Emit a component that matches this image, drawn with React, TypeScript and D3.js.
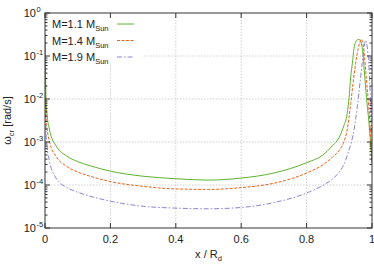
import * as d3 from "d3";

// M = 1.1 M_sun
const greenX = [0, 0.004, 0.014, 0.035, 0.065, 0.1, 0.138, 0.2, 0.3, 0.4, 0.5, 0.6, 0.7, 0.8, 0.85, 0.875, 0.902, 0.914, 0.924, 0.93, 0.935, 0.94, 0.945, 0.953, 0.96, 0.967, 0.973, 0.977, 0.983, 0.99, 1.0];
const greenY = [0.32, 6.6e-3, 1.9e-3, 7.9e-4, 4.8e-4, 3.5e-4, 2.8e-4, 2.1e-4, 1.6e-4, 1.4e-4, 1.3e-4, 1.45e-4, 1.9e-4, 3.3e-4, 5.0e-4, 7.6e-4, 1.4e-3, 2.4e-3, 4.5e-3, 1.1e-2, 3.3e-2, 6.8e-2, 0.15, 0.23, 0.245, 0.2, 9.8e-2, 4.0e-2, 1.1e-2, 3.2e-3, 3.2e-4];

// M = 1.4 M_sun
const orangeX = [0, 0.004, 0.014, 0.035, 0.065, 0.1, 0.138, 0.2, 0.3, 0.4, 0.5, 0.6, 0.7, 0.8, 0.85, 0.88, 0.902, 0.914, 0.924, 0.935, 0.942, 0.95, 0.957, 0.963, 0.967, 0.973, 0.977, 0.983, 0.99, 0.995, 1.0];
const orangeY = [0.08, 3.2e-3, 1.0e-3, 4.5e-4, 2.75e-4, 2.0e-4, 1.6e-4, 1.2e-4, 9.3e-5, 8.1e-5, 7.9e-5, 8.7e-5, 1.1e-4, 1.9e-4, 2.95e-4, 4.5e-4, 6.8e-4, 1.0e-3, 1.9e-3, 7.9e-3, 2.3e-2, 6.8e-2, 0.14, 0.21, 0.245, 0.18, 9.8e-2, 2.8e-2, 6.6e-3, 1.9e-3, 3.2e-4];

// M = 1.9 M_sun
const purpleX = [0, 0.004, 0.014, 0.035, 0.065, 0.1, 0.138, 0.2, 0.3, 0.4, 0.5, 0.6, 0.7, 0.8, 0.85, 0.88, 0.902, 0.914, 0.929, 0.945, 0.955, 0.963, 0.97, 0.975, 0.98, 0.985, 0.99, 0.995, 1.0];
const purpleY = [0.025, 1.26e-3, 3.5e-4, 1.4e-4, 8.9e-5, 6.8e-5, 5.5e-5, 4.2e-5, 3.2e-5, 2.9e-5, 2.8e-5, 3.0e-5, 3.9e-5, 6.5e-5, 9.8e-5, 1.4e-4, 2.1e-4, 3.0e-4, 6.3e-4, 1.9e-3, 6.6e-3, 2.3e-2, 6.8e-2, 0.14, 0.23, 0.17, 6.8e-2, 1.1e-2, 1.0e-3];

const legendLabels = ["M=1.1", "M=1.4", "M=1.9"];
const xTicks = [0, 0.2, 0.4, 0.6, 0.8, 1];
const xTickLabels = ["0", "0.2", "0.4", "0.6", "0.8", "1"];
const yExponents = [0, -1, -2, -3, -4, -5];

const W = 374;
const H = 264;
const margin = { left: 45, right: 2, top: 13, bottom: 36 };
const FONT = "'Liberation Sans', Arial, sans-serif";

const series = [
  { xs: greenX, ys: greenY, color: "#5fb22f", dash: "none" },
  { xs: orangeX, ys: orangeY, color: "#e5641b", dash: "3,1.5" },
  { xs: purpleX, ys: purpleY, color: "#8b84d2", dash: "5,2,1.5,2" },
];

export default function App() {
  const x = d3.scaleLinear().domain([0, 1]).range([margin.left, W - margin.right]);
  const y = d3.scaleLog().domain([1e-5, 1]).range([H - margin.bottom, margin.top]);
  const x0 = x.range()[0], x1 = x.range()[1];
  const y0 = y.range()[0], y1 = y.range()[1];

  const line = d3
    .line<[number, number]>()
    .x((d) => x(d[0]))
    .y((d) => y(d[1]))
    .curve(d3.curveMonotoneX);

  // minor ticks 2..9 in every decade
  const minor: number[] = [];
  yExponents.slice(0, -1).forEach((e) => {
    for (let k = 2; k <= 9; k++) minor.push(k * Math.pow(10, e - 1));
  });

  return (
    <svg width={W} height={H} style={{ position: "fixed", left: 0, top: 0, background: "#fff" }} fontFamily={FONT}>
      <defs>
        <clipPath id="plot">
          <rect x={x0} y={y1} width={x1 - x0} height={y0 - y1} />
        </clipPath>
      </defs>

      {/* grid */}
      {xTicks.slice(1, -1).map((t) => (
        <line key={"gx" + t} x1={x(t)} x2={x(t)} y1={y0} y2={y1} stroke="#c4c4c4" strokeWidth={0.8} strokeDasharray="1.5,1.5" />
      ))}
      {yExponents.slice(1, -1).map((e) => (
        <line key={"gy" + e} x1={x0} x2={x1} y1={y(Math.pow(10, e))} y2={y(Math.pow(10, e))} stroke="#c4c4c4" strokeWidth={0.8} strokeDasharray="1.5,1.5" />
      ))}

      {/* legend background */}
      <rect x={47} y={14} width={95} height={50} fill="#fff" />

      {/* curves */}
      <g clipPath="url(#plot)">
        {series.map((s, i) => (
          <path
            key={i}
            d={line(s.xs.map((v, j) => [v, s.ys[j]] as [number, number])) || ""}
            fill="none"
            stroke={s.color}
            strokeWidth={1}
            strokeDasharray={s.dash}
          />
        ))}
      </g>

      {/* frame */}
      <rect x={x0} y={y1} width={x1 - x0} height={y0 - y1} fill="none" stroke="#333" strokeWidth={1} />

      {/* y ticks */}
      {yExponents.map((e) => {
        const yy = y(Math.pow(10, e));
        return (
          <g key={"yt" + e}>
            <line x1={x0} x2={x0 + 5} y1={yy} y2={yy} stroke="#333" />
            <line x1={x1} x2={x1 - 5} y1={yy} y2={yy} stroke="#333" />
            <text x={36} y={yy + 4} fontSize={11} textAnchor="end" fill="#222">10</text>
            <text x={36.5} y={yy - 1.5} fontSize={7.5} fill="#222">{String(e)}</text>
          </g>
        );
      })}
      {minor.map((v) => (
        <g key={"ym" + v}>
          <line x1={x0} x2={x0 + 2.5} y1={y(v)} y2={y(v)} stroke="#333" />
          <line x1={x1} x2={x1 - 2.5} y1={y(v)} y2={y(v)} stroke="#333" />
        </g>
      ))}

      {/* x ticks */}
      {xTicks.map((t, i) => (
        <g key={"xt" + t}>
          <line x1={x(t)} x2={x(t)} y1={y0} y2={y0 - 5} stroke="#333" />
          <line x1={x(t)} x2={x(t)} y1={y1} y2={y1 + 5} stroke="#333" />
          <text x={x(t)} y={y0 + 15} fontSize={11} textAnchor="middle" fill="#222">{xTickLabels[i]}</text>
        </g>
      ))}

      {/* axis labels */}
      <text x={(x0 + x1) / 2} y={H - 6} fontSize={11} textAnchor="middle" fill="#222">
        x / R<tspan fontSize={7.5} dy={3}>d</tspan>
      </text>
      <text transform={`translate(11,${(y0 + y1) / 2}) rotate(-90)`} fontSize={11} textAnchor="middle" fill="#222">
        ω<tspan fontSize={7.5} dy={3}>cr</tspan><tspan dy={-3}> [rad/s]</tspan>
      </text>

      {/* legend */}
      {series.map((s, i) => {
        const ly = 24 + i * 16.5;
        return (
          <g key={"lg" + i}>
            <text x={52} y={ly + 4} fontSize={11} fill="#222">
              {legendLabels[i]} M<tspan fontSize={7.5} dy={3}>Sun</tspan>
            </text>
            <line x1={117} x2={134} y1={ly} y2={ly} stroke={s.color} strokeWidth={1} strokeDasharray={s.dash} />
          </g>
        );
      })}
    </svg>
  );
}
